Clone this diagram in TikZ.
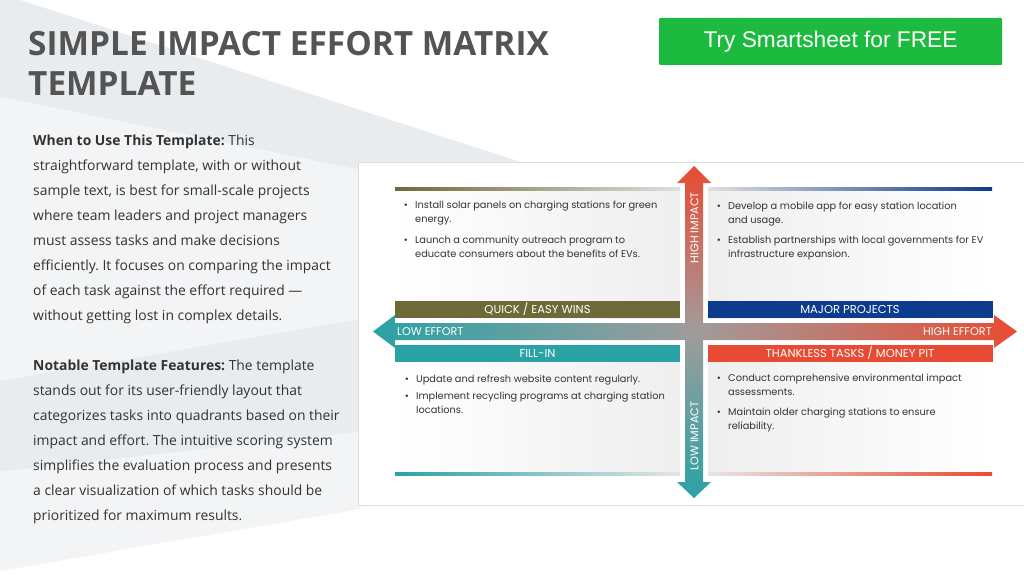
\documentclass[tikz,border=0pt]{standalone}
\usepackage{fontspec}
\setmainfont{Open Sans}
\newfontfamily\gothicfont{Poppins}
\newfontfamily\arialfont{Liberation Sans}
\usetikzlibrary{positioning, calc}
\definecolor{titlegray}{HTML}{545454}
\definecolor{bodytext}{HTML}{333333}
\definecolor{btngreen}{HTML}{1CBB40}
\definecolor{olivebar}{HTML}{6E6A37}
\definecolor{navybar}{HTML}{0D3B8E}
\definecolor{tealbar}{HTML}{2AA2A5}
\definecolor{redbar}{HTML}{E84B33}
\definecolor{axisgray}{HTML}{A09C9C}
\definecolor{bgdark}{HTML}{E9ECEE}
\definecolor{bglight}{HTML}{F3F4F6}
\definecolor{framegray}{HTML}{DEDEDE}
\frenchspacing

\begin{document}
\begin{tikzpicture}[x=1pt, y=-1pt,
    barnode/.style={minimum width=285pt, minimum height=17pt, inner sep=0pt, text=white, font=\gothicfont\fontsize{11.5}{12}\selectfont},
    tasknode/.style={anchor=north west, align=left, inner sep=0pt, text=bodytext, font=\gothicfont\fontsize{9.8}{14}\selectfont},
    dotmark/.style={anchor=north east, inner sep=0pt, text=bodytext, font=\gothicfont\fontsize{9.8}{14}\selectfont},
    axislabel/.style={text=white, inner sep=0pt, font=\gothicfont\fontsize{11.2}{12}\selectfont},
    bodypar/.style={anchor=north west, align=left, inner sep=0pt, text=bodytext, font=\fontsize{13.9}{25}\selectfont}]
  \useasboundingbox (0,0) rectangle (1024,575);
  \fill[white] (0,0) rectangle (1024,575);
  % background bands
  \fill[bgdark] (0,0) -- (20,0) -- (530,165) -- (360,165) -- (360,170) -- (0,97) -- cycle;
  \fill[bglight] (0,97) -- (360,170) -- (360,319) -- (0,381) -- cycle;
  \fill[bgdark] (0,381) -- (360,319) -- (360,432) -- (0,472) -- cycle;
  \fill[bglight] (0,472) -- (360,432) -- (360,509) -- (0,571) -- cycle;

  \node[bodypar, text=titlegray, font=\bfseries\fontsize{33.4}{40}\selectfont] (title) at (28,27) {\strut SIMPLE IMPACT EFFORT MATRIX\\TEMPLATE};
  \node[fill=btngreen, rounded corners=1pt, minimum width=343pt, minimum height=47pt, text=white, font=\arialfont\fontsize{22.7}{24}\selectfont] (btn) at (830.5,41.5) {Try Smartsheet for FREE};

  \node[bodypar] (intro) at (33,127.5) {\strut\textbf{When to Use This Template:} This\\
    straightforward template, with or without\\
    sample text, is best for small-scale projects\\
    where team leaders and project managers\\
    must assess tasks and make decisions\\
    efficiently. It focuses on comparing the impact\\
    of each task against the effort required ---\\
    without getting lost in complex details.\\[25pt]
    \textbf{Notable Template Features:} The template\\
    stands out for its user-friendly layout that\\
    categorizes tasks into quadrants based on their\\
    impact and effort. The intuitive scoring system\\
    simplifies the evaluation process and presents\\
    a clear visualization of which tasks should be\\
    prioritized for maximum results.};

  % matrix frame
  \draw[framegray, fill=white] (358.5,162.5) rectangle (1030,505);
  \shade[left color=white, right color=gray!13] (395,188) rectangle (680,318);
  \shade[left color=gray!13, right color=white] (708,188) rectangle (992,318);
  \shade[left color=white, right color=gray!13] (395,345) rectangle (680,474);
  \shade[left color=gray!13, right color=white] (708,345) rectangle (992,474);
  \shade[left color=olivebar, right color=gray!25] (395,187) rectangle (680,190);
  \shade[left color=gray!25, right color=navybar] (708,187) rectangle (992,190);
  \shade[left color=tealbar, right color=gray!20] (395,472) rectangle (680,475);
  \shade[left color=gray!20, right color=redbar] (708,472) rectangle (992,475);

  \node[barnode, fill=olivebar] (qwbar) at (537.5,309.5) {QUICK / EASY WINS};
  \node[barnode, fill=navybar] (mpbar) at (850,309.5) {MAJOR PROJECTS};
  \node[barnode, fill=tealbar] (fibar) at (537.5,353.5) {FILL-IN};
  \node[barnode, fill=redbar] (ttbar) at (850,353.5) {THANKLESS TASKS / MONEY PIT};

  \node[tasknode] (qw1) at (415,198.2) {\strut Install solar panels on charging stations for green\\energy.};
  \node[tasknode] (qw2) at (415,233.2) {\strut Launch a community outreach program to\\educate consumers about the benefits of EVs.};
  \node[tasknode] (mp1) at (728,199) {\strut Develop a mobile app for easy station location\\and usage.};
  \node[tasknode] (mp2) at (728,233.2) {\strut Establish partnerships with local governments for EV\\infrastructure expansion.};
  \node[tasknode] (fi1) at (416,372.7) {\strut Update and refresh website content regularly.};
  \node[tasknode] (fi2) at (416,389.5) {\strut Implement recycling programs at charging station\\locations.};
  \node[tasknode] (tt1) at (728,371.8) {\strut Conduct comprehensive environmental impact\\assessments.};
  \node[tasknode] (tt2) at (728,405.2) {\strut Maintain older charging stations to ensure\\reliability.};
  \foreach \t in {qw1,qw2,mp1,mp2,fi1,fi2,tt1,tt2}
    \node[dotmark] at ([xshift=-7pt]\t.north west) {\strut\textbullet};

  % axes
  \shade[left color=tealbar, right color=redbar, middle color=axisgray]
    (373,331.5) -- (395,315) -- (395,323) -- (994,323) -- (994,315) -- (1017,331.5)
    -- (994,348) -- (994,340) -- (395,340) -- (395,348) -- cycle;
  \shade[top color=redbar, bottom color=tealbar, middle color=axisgray]
    (694,166) -- (711,183) -- (703,183) -- (703,482) -- (711,482) -- (694,498)
    -- (677,482) -- (685,482) -- (685,183) -- (677,183) -- cycle;
  \node[axislabel, anchor=west] (loweff) at (397,332) {LOW EFFORT};
  \node[axislabel, anchor=east] (higheff) at (992,332) {HIGH EFFORT};
  \node[axislabel, rotate=90] (highimp) at (694.5,227.5) {HIGH IMPACT};
  \node[axislabel, rotate=90] (lowimp) at (694.5,436) {LOW IMPACT};
\end{tikzpicture}
\end{document}
